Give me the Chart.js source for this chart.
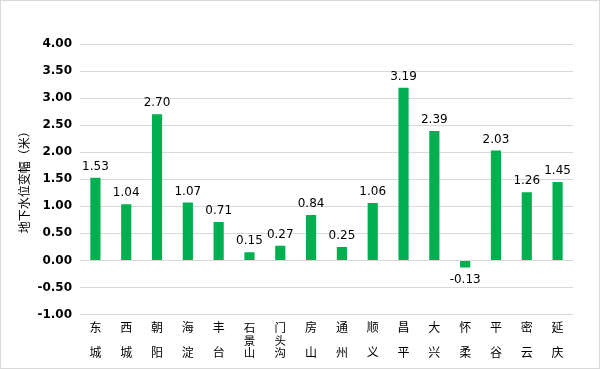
<!DOCTYPE html>
<html>
<head>
<meta charset="utf-8">
<script src="https://cdn.jsdelivr.net/npm/chart.js@4"></script>
<style>
  html, body { margin: 0; padding: 0; background: #fff; }
  #wrap { width: 600px; height: 369px; box-sizing: border-box; border: 1px solid #d9d9d9; }
</style>
</head>
<body>
<div id="wrap"><canvas id="chart" width="598" height="367"></canvas></div>
<script>
// districts, each as stacked characters (blank middle line spreads two-character names)
const districts = [
  ["东", "", "城"], ["西", "", "城"], ["朝", "", "阳"], ["海", "", "淀"], ["丰", "", "台"],
  ["石", "景", "山"], ["门", "头", "沟"], ["房", "", "山"], ["通", "", "州"],
  ["顺", "", "义"], ["昌", "", "平"], ["大", "", "兴"], ["怀", "", "柔"], ["平", "", "谷"],
  ["密", "", "云"], ["延", "", "庆"]
];
const waterChange = [1.53, 1.04, 2.70, 1.07, 0.71, 0.15, 0.27, 0.84, 0.25, 1.06, 3.19, 2.39, -0.13, 2.03, 1.26, 1.45];
const yMin = -1.0;
const yMax = 4.0;
const yStep = 0.5;

// --- value labels above / below each bar ---
const valueLabels = {
  id: "valueLabels",
  afterDatasetsDraw(chart) {
    const ctx = chart.ctx;
    const meta = chart.getDatasetMeta(0);
    ctx.save();
    ctx.font = "12px 'DejaVu Sans'";
    ctx.fillStyle = "#000";
    ctx.textAlign = "center";
    meta.data.forEach((bar, i) => {
      const v = waterChange[i];
      if (v >= 0) {
        ctx.textBaseline = "bottom";
        ctx.fillText(v.toFixed(2), bar.x, bar.y - 5);
      } else {
        ctx.textBaseline = "top";
        ctx.fillText(v.toFixed(2), bar.x, bar.y + 6);
      }
    });
    ctx.restore();
  },
};

new Chart(document.getElementById("chart"), {
  type: "bar",
  data: {
    labels: districts,
    datasets: [
      {
        data: waterChange,
        backgroundColor: "#00b050",
        barPercentage: 0.33,
        categoryPercentage: 1.0,
      },
    ],
  },
  options: {
    responsive: false,
    animation: false,
    layout: { padding: { top: 43, right: 26, bottom: 2, left: 0 } },
    plugins: {
      legend: { display: false },
      tooltip: { enabled: false },
    },
    scales: {
      x: {
        grid: { display: false, drawTicks: false },
        border: { display: false },
        ticks: {
          maxRotation: 0,
          autoSkip: false,
          color: "#000",
          padding: 7,
          // three-character names are squeezed a little, as in the original
          font: (c) => {
            const full = districts[c.index] && districts[c.index][1] !== "";
            return { family: "'Noto Sans CJK SC'", size: full ? 11.5 : 12, lineHeight: "12.5px" };
          },
        },
      },
      y: {
        min: yMin,
        max: yMax,
        afterFit: (scale) => { scale.width = 79; },
        ticks: {
          stepSize: yStep,
          color: "#000",
          padding: 8,
          font: { family: "'DejaVu Sans'", size: 12, weight: "bold" },
          callback: (v) => Number(v).toFixed(2),
        },
        grid: { color: "#d9d9d9", drawTicks: false },
        border: { display: false },
        title: {
          display: true,
          text: "地下水位变幅（米）",
          color: "#000",
          font: { family: "'Noto Sans CJK SC'", size: 12 },
          padding: { top: 16, bottom: 4 },
        },
      },
    },
  },
  plugins: [valueLabels],
});
</script>
</body>
</html>
